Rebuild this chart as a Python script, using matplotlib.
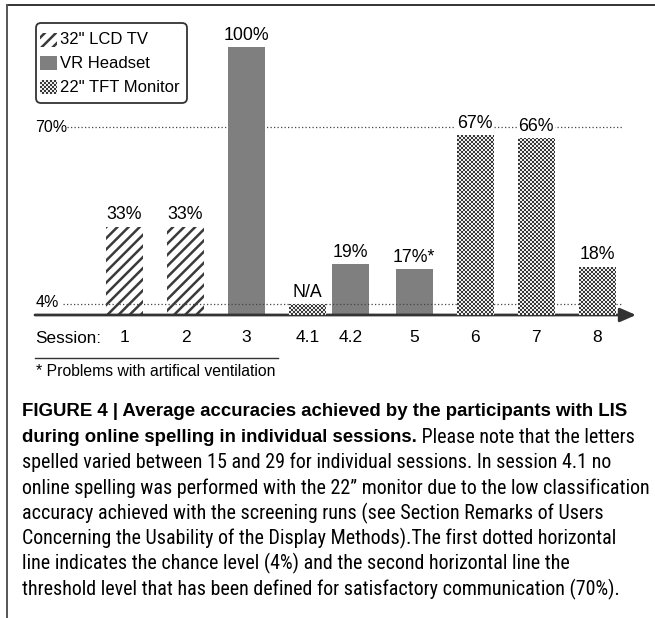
import numpy as np
import matplotlib
matplotlib.use('Agg')
import matplotlib.pyplot as plt
from matplotlib import font_manager
from matplotlib.patches import FancyBboxPatch, Rectangle
from matplotlib.lines import Line2D
from matplotlib.transforms import IdentityTransform, blended_transform_factory

# ---------------- data ----------------
sessions = ['1', '2', '3', '4.1', '4.2', '5', '6', '7', '8']
values = [33, 33, 100, 4, 19, 17, 67, 66, 18]   # 4.1 = N/A (stub drawn at chance level)
value_labels = ['33%', '33%', '100%', 'N/A', '19%', '17%*', '67%', '66%', '18%']
displays = ['LCD', 'LCD', 'VR', 'TFT', 'VR', 'VR', 'TFT', 'TFT', 'TFT']
legend_labels = ['32" LCD TV', 'VR Headset', '22" TFT Monitor']
chance_level = 4
threshold_level = 70
footnote = '* Problems with artifical ventilation'
caption_bold_1 = 'FIGURE 4 | Average accuracies achieved by the participants with LIS'
caption_bold_2 = 'during online spelling in individual sessions.'
caption_rest_2 = ' Please note that the letters'
caption_lines = [
    'spelled varied between 15 and 29 for individual sessions. In session 4.1 no',
    'online spelling was performed with the 22\u201d monitor due to the low classification',
    'accuracy achieved with the screening runs (see Section Remarks of Users',
    'Concerning the Usability of the Display Methods).The first dotted horizontal',
    'line indicates the chance level (4%) and the second horizontal line the',
    'threshold level that has been defined for satisfactory communication (70%).',
]

# ---------------- layout ----------------
W, H = 655, 618
x_pos = [0, 1, 2, 3, 3.7, 4.75, 5.75, 6.75, 7.75]
X0, DX = 124.5, 61.0          # pixel x of session 1, pixels per x unit
Y0, DY = 315.0, 2.68          # pixel y (from top) of baseline, pixels per percent
bar_w = 0.6
GRAY = '#7f7f7f'
DARK = '#333333'

plt.rcParams['font.family'] = ['Liberation Sans', 'DejaVu Sans']
plt.rcParams['hatch.linewidth'] = 1.8

fig = plt.figure(figsize=(W / 100, H / 100), dpi=100)
ax = fig.add_axes([0, 0, 1, 1])
ax.axis('off')
ax.set_xlim(-X0 / DX, (W - X0) / DX)
ax.set_ylim((Y0 - H) / DY, Y0 / DY)

PIX = IdentityTransform()
def Y(yt):
    return H - yt

# bars
bars = []
for x, v, d in zip(x_pos, values, displays):
    if d == 'LCD':
        b = ax.bar(x, v, width=bar_w, facecolor='white', edgecolor='#3a3a3a', hatch='///', linewidth=0, zorder=2)[0]
    elif d == 'VR':
        b = ax.bar(x, v, width=bar_w, color=GRAY, linewidth=0, zorder=2)[0]
    else:
        b = ax.bar(x, v, width=bar_w, facecolor='#909090', linewidth=0, zorder=2)[0]
    bars.append((b, d))

def checker(w, h, cell=2):
    yy, xx = np.mgrid[0:h, 0:w]
    m = ((xx // cell + yy // cell) % 2).astype(bool)
    arr = np.empty((h, w, 3))
    arr[m] = (0.22, 0.22, 0.22)
    arr[~m] = (0.93, 0.93, 0.93)
    return arr

renderer = fig.canvas.get_renderer()
for b, d in bars:
    if d == 'TFT':
        bb = b.get_window_extent(renderer)
        x0, y0 = int(round(bb.x0)), int(round(bb.y0))
        w, h = int(round(bb.x1)) - x0, int(round(bb.y1)) - y0
        fig.figimage(checker(w, h), xo=x0, yo=y0, origin='lower', zorder=1)

# value labels
for x, v, lab in zip(x_pos, values, value_labels):
    kw = {}
    if 60 < v < 80:
        kw['bbox'] = dict(facecolor='white', edgecolor='none', pad=1.0)
    ax.annotate(lab, (x, v), xytext=(0, 2.5), textcoords='offset points',
                ha='center', va='bottom', fontsize=12.8, zorder=5, **kw)

# reference lines
hl_tr = blended_transform_factory(PIX, ax.transData)
ax.add_line(Line2D([63, 623], [chance_level, chance_level], transform=hl_tr,
                   color='#444444', lw=0.9, linestyle=(0, (1, 1.8)), zorder=3))
ax.add_line(Line2D([67, 623], [threshold_level, threshold_level], transform=hl_tr,
                   color='#444444', lw=0.9, linestyle=(0, (1, 1.8)), zorder=1))
fig.text(36 / W, 1 - 302 / H, f'{chance_level}%', fontsize=11.5, va='center', ha='left')
fig.text(35 / W, 1 - 127 / H, f'{threshold_level}%', fontsize=11.5, va='center', ha='left')

# baseline arrow
ax.annotate('', xy=(636, Y(Y0)), xytext=(35, Y(Y0)), xycoords='figure pixels',
            textcoords='figure pixels',
            arrowprops=dict(arrowstyle='-|>,head_length=0.8,head_width=0.35', lw=2.0,
                            color=DARK, shrinkA=0, shrinkB=0, mutation_scale=12))

# session labels
tick_tr = blended_transform_factory(ax.transData, PIX)
for x, s in zip(x_pos, sessions):
    ax.text(x, Y(338), s, transform=tick_tr, ha='center', va='center', fontsize=12.5)
fig.text(35 / W, 1 - 338 / H, 'Session:', fontsize=12.3, va='center', ha='left')

# footnote
fig.add_artist(Line2D([35, 278], [Y(358), Y(358)], transform=PIX, color=DARK, lw=1.0))
fig.text(36 / W, 1 - 372 / H, footnote, fontsize=11.3, va='center', ha='left')

# legend
fig.add_artist(FancyBboxPatch((36, Y(103)), 151, 80, transform=PIX,
                              boxstyle='round,pad=0,rounding_size=5',
                              facecolor='white', edgecolor=DARK, lw=1.3, zorder=3))
leg_rows = [40, 63, 87]
sw_x, sw_w, sw_h = 40, 17, 14
for lab, yc, d in zip(legend_labels, leg_rows, ['LCD', 'VR', 'TFT']):
    if d == 'LCD':
        fig.add_artist(Rectangle((sw_x, Y(yc) - sw_h / 2), sw_w, sw_h, transform=PIX,
                                 facecolor='white', edgecolor='#3a3a3a', hatch='///', lw=0, zorder=4))
    elif d == 'VR':
        fig.add_artist(Rectangle((sw_x, Y(yc) - sw_h / 2), sw_w, sw_h, transform=PIX,
                                 facecolor=GRAY, lw=0, zorder=4))
    else:
        fig.figimage(checker(sw_w, sw_h), xo=sw_x, yo=int(Y(yc) - sw_h / 2), origin='lower', zorder=5)
    fig.text(60 / W, 1 - yc / H, lab, fontsize=12, va='center', ha='left', zorder=6)

# border
fig.add_artist(Line2D([7, W], [Y(5), Y(5)], transform=PIX, color='#333333', lw=1.4))
fig.add_artist(Line2D([7, 7], [Y(5), 0], transform=PIX, color='#555555', lw=1.4))

# caption
avail = {f.name for f in font_manager.fontManager.ttflist}
cap_font = 'Liberation Sans'
for cand in ['Liberation Sans Narrow', 'Roboto Condensed', 'Open Sans Condensed']:
    if cand in avail:
        cap_font = cand
        break
bold_font = 'Liberation Sans'

def fit_size(text, width, **kw):
    probe = fig.text(0, 0, text, fontsize=10, **kw)
    pw = probe.get_window_extent(renderer).width
    probe.remove()
    return 10 * width / pw

cap_fs = fit_size(caption_lines[1], 623, family=cap_font)
bold_fs = fit_size(caption_bold_1, 606, family=bold_font, weight='bold')
cap_x = 22
cap_y0, cap_dy = 412, 25.3
fig.text(cap_x / W, 1 - cap_y0 / H, caption_bold_1, fontsize=bold_fs, family=bold_font,
         weight='bold', va='center', ha='left')
tb = fig.text(cap_x / W, 1 - (cap_y0 + cap_dy) / H, caption_bold_2, fontsize=bold_fs,
              family=bold_font, weight='bold', va='center', ha='left')
bw = tb.get_window_extent(renderer).x1
fig.text(bw / W, 1 - (cap_y0 + cap_dy) / H, caption_rest_2, fontsize=cap_fs,
         family=cap_font, va='center', ha='left')
for i, line in enumerate(caption_lines):
    fig.text(cap_x / W, 1 - (cap_y0 + cap_dy * (i + 2)) / H, line, fontsize=cap_fs,
             family=cap_font, va='center', ha='left')

fig.savefig('out.png', dpi=100, facecolor='white')
